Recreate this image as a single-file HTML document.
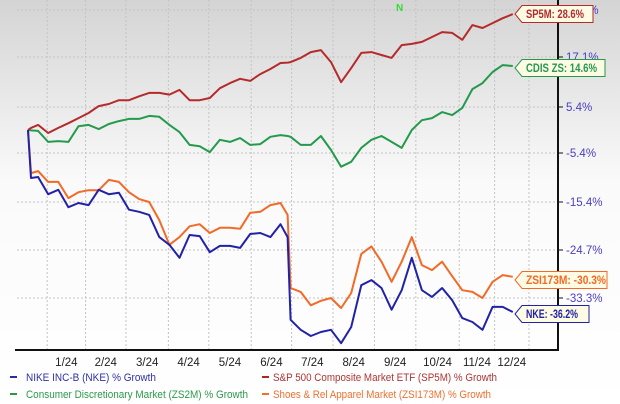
<!DOCTYPE html>
<html><head><meta charset="utf-8"><style>
html,body{margin:0;padding:0;width:620px;height:404px;overflow:hidden;background:#fff}
svg{display:block;font-family:"Liberation Sans",sans-serif}
</style></head><body>
<svg id="chart" width="620" height="404" viewBox="0 0 620 404">
<defs><linearGradient id="bg" x1="0" y1="0" x2="0" y2="1">
<stop offset="0" stop-color="#d4d4d4"/><stop offset="0.45" stop-color="#fafafa"/><stop offset="1" stop-color="#ffffff"/></linearGradient></defs>
<rect x="0" y="0" width="620" height="404" fill="url(#bg)"/>
<g id="grid"></g>
<g id="series"></g>
<line x1="15" y1="350" x2="558" y2="350" stroke="#111" stroke-width="2"/>
<line x1="558" y1="0" x2="558" y2="351" stroke="#111" stroke-width="2"/>
<g id="yticks"></g>
<g id="xticks"></g>
<g id="flags"></g>
<text x="396" y="11" fill="#33dd33" font-size="10" font-weight="bold">N</text>
<g font-size="11">
<rect x="10" y="376" width="7" height="2" fill="#2b2ba6"/>
<text x="26" y="381" fill="#3030a8" textLength="130" lengthAdjust="spacingAndGlyphs">NIKE INC-B (NKE) % Growth</text>
<rect x="262" y="376" width="7" height="2" fill="#b02525"/>
<text x="273" y="381" fill="#b03333" textLength="224" lengthAdjust="spacingAndGlyphs">S&amp;P 500 Composite Market ETF (SP5M) % Growth</text>
<rect x="10" y="393" width="7" height="2" fill="#2a9a4a"/>
<text x="26" y="398" fill="#2a9a4a" textLength="222" lengthAdjust="spacingAndGlyphs">Consumer Discretionary Market (ZS2M) % Growth</text>
<rect x="262" y="393" width="7" height="2" fill="#f07030"/>
<text x="273" y="398" fill="#f07030" textLength="218" lengthAdjust="spacingAndGlyphs">Shoes &amp; Rel Apparel Market (ZSI173M) % Growth</text>
</g>
</svg>
<script>
const weeks=[0,0.3,1,2,3,4,5,6,7,8,9,10,11,12,13,14,15,16,17,18,19,20,21,22,23,24,25,25.7,26,27,28,29,30,31,32,33,34,35,36,37,38,39,40,41,42,43,44,45,46,47,48];
const sp5m=[0,0.5,1.2,-0.7,0.5,1.6,2.8,4.0,5.6,6.1,7.0,7.0,7.9,8.7,8.7,8.3,9.4,7.0,7.0,7.5,9.8,11.0,12.0,11.5,13.1,14.3,15.7,15.8,15.9,16.9,18.3,18.8,15.9,11.2,14.5,18.1,18.3,17.6,16.9,20.0,20.3,20.8,22.0,23.2,23.0,21.3,24.9,24.2,25.4,26.6,27.6];
const zs2m=[0,-0.1,-0.2,-2.8,-2.6,-2.8,0.9,1.2,0.2,1.4,2.1,2.6,2.6,3.3,3.1,1.2,-0.5,-3.5,-3.8,-5.2,-2.3,-2.8,-1.9,-3.5,-3.3,-1.6,-1.2,-1.4,-1.6,-3.5,-3.5,-1.4,-4.7,-8.2,-7.2,-4.2,-2.3,-1.4,-2.8,-4.2,0.0,2.3,2.8,4.2,3.5,5.2,9.6,11.0,13.6,15.2,15.0];
const zsi173m=[0,-9.5,-9.1,-11.3,-11.3,-14.6,-13.4,-13.0,-13.0,-10.9,-11.3,-13.4,-14.8,-15.4,-18.9,-23.7,-22.2,-20.1,-19.7,-21.4,-20.4,-20.4,-20.6,-17.5,-17.3,-16.0,-15.6,-17.9,-31.5,-32.2,-34.6,-33.8,-33.3,-35.1,-32.4,-25.4,-24.0,-26.8,-30.4,-26.8,-22.2,-27.4,-28.3,-26.8,-29.4,-31.9,-32.2,-33.3,-30.4,-29.2,-29.5];
const nke=[0,-10.5,-10.3,-13.8,-12.9,-16.4,-15.6,-16.0,-12.9,-13.8,-13.5,-16.9,-17.3,-17.9,-22.2,-23.7,-26.1,-21.8,-22.0,-25.1,-23.9,-23.9,-24.3,-21.6,-21.4,-22.2,-19.7,-22.2,-37.2,-39.0,-40.1,-39.4,-39.0,-41.4,-38.5,-31.0,-30.1,-31.5,-35.4,-31.9,-26.1,-31.9,-33.1,-31.5,-33.7,-36.9,-37.6,-39.0,-34.9,-34.9,-35.8];
const yTickVals=[28.6,17.1,5.4,-5.4,-15.4,-24.7,-33.3];
const yTickLabels=["28.6%","17.1%","5.4%","-5.4%","-15.4%","-24.7%","-33.3%"];
const xTickLabels=["1/24","2/24","3/24","4/24","5/24","6/24","7/24","8/24","9/24","10/24","11/24","12/24"];
const monthStartWeeks=[1.9,5.7,9.7,13.9,17.9,22.1,26.1,30.2,34.3,38.4,42.7,46.2,49.6];
const endLabels=["SP5M: 28.6%","CDIS ZS: 14.6%","ZSI173M: -30.3%","NKE: -36.2%"];

const NS="http://www.w3.org/2000/svg";
const tickPos=[10,57,107,153,202,250,298];
function yScale(v){
  for(let i=0;i<yTickVals.length-1;i++){
    const a=yTickVals[i],b=yTickVals[i+1];
    if(v<=a&&v>=b||i===yTickVals.length-2||(i===0&&v>a)){
      return tickPos[i]+(v-a)/(b-a)*(tickPos[i+1]-tickPos[i]);
    }
  }
}
function xScale(w){return 28+w*10.1;}
function mk(tag,attrs,parent){const e=document.createElementNS(NS,tag);for(const k in attrs)e.setAttribute(k,attrs[k]);parent.appendChild(e);return e;}

const grid=document.getElementById('grid');
yTickVals.forEach(v=>{
  const l=mk('line',{x1:17,x2:558,y1:yScale(v),y2:yScale(v),stroke:'#c4c4c4','stroke-dasharray':'2,2','stroke-width':1},grid);
  
  
});
monthStartWeeks.forEach(w=>{
  const l=mk('line',{x1:xScale(w),x2:xScale(w),y1:0,y2:350,stroke:'#c4c4c4','stroke-dasharray':'2,2','stroke-width':1},grid);
  
  
});

const yt=document.getElementById('yticks');
yTickVals.forEach((v,i)=>{
  const y=yScale(v);
  const t=mk('line',{x1:558,x2:563,y1:y,y2:y,stroke:'#111','stroke-width':1},yt);
  
  
  const tx=mk('text',{x:566,y:y+4,fill:'#4a3fc0','font-size':'11.5'},yt);
  tx.textContent=yTickLabels[i];
  
  
});
const xt=document.getElementById('xticks');
xTickLabels.forEach((lab,i)=>{
  const cx=(xScale(monthStartWeeks[i])+xScale(monthStartWeeks[i+1]))/2;
  const tx=mk('text',{x:cx,y:366,fill:'#222','font-size':'11.5','text-anchor':'middle'},xt);
  tx.textContent=lab;
  
  
});

const seriesG=document.getElementById('series');
const seriesList=[[zs2m,'#249a4c','line-zs2m'],[sp5m,'#b52a2a','line-sp5m'],[zsi173m,'#f26a26','line-zsi173m'],[nke,'#2222a8','line-nke']];
seriesList.forEach(s=>{
  const d=s[0].map((v,i)=>(i?'L':'M')+xScale(weeks[i]).toFixed(1)+' '+yScale(v).toFixed(1)).join(' ');
  const p=mk('path',{d:d,fill:'none',stroke:s[1],'stroke-width':2,'stroke-linejoin':'round'},seriesG);
  
  
});

const flags=document.getElementById('flags');
const flagColors=['#b52a2a','#249a4c','#f26a26','#2222a8'];
const flagW=[78,90,92,74];
const textW=[58,71,80,52];
const flagY=[14,68,280,314];
flagColors.forEach((c,i)=>{
  const x0=515,y=flagY[i],w=flagW[i],h=17;
  const pts=[[x0,y],[x0+7,y-h/2],[x0+w,y-h/2],[x0+w,y+h/2],[x0+7,y+h/2]].map(p=>p.join(',')).join(' ');
  const pg=mk('polygon',{points:pts,fill:'#fdfbe4',stroke:c,'stroke-width':1},flags);
  
  
  const tx=mk('text',{x:x0+11,y:y+4,fill:c,'font-size':'11.5','font-weight':'bold',textLength:textW[i],lengthAdjust:'spacingAndGlyphs'},flags);
  tx.textContent=endLabels[i];
  
  
});
</script>
</body></html>
